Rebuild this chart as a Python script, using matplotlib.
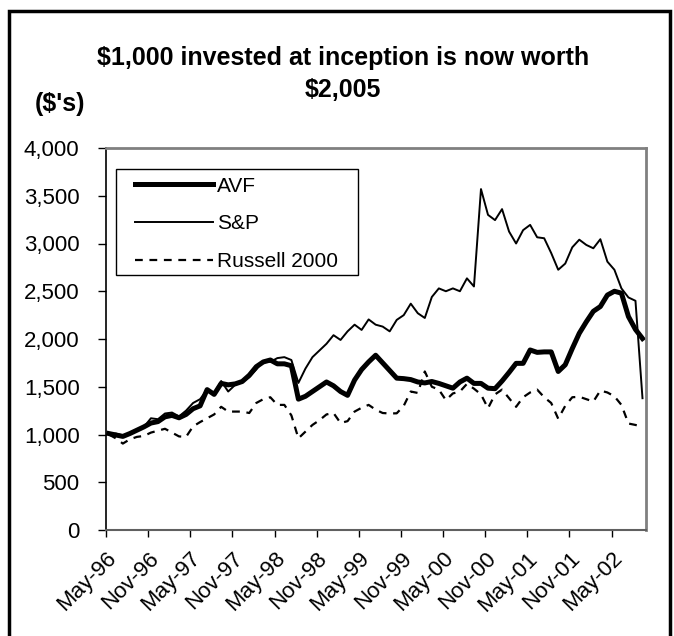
import numpy as np
import matplotlib
matplotlib.use("Agg")
import matplotlib.pyplot as plt
from matplotlib.patches import Rectangle

plt.rcParams['font.family'] = ['Liberation Sans', 'DejaVu Sans']

# monthly growth of $1,000, May-96 .. Sep-02
tick_labels = ["May-96", "Nov-96", "May-97", "Nov-97", "May-98", "Nov-98", "May-99",
               "Nov-99", "May-00", "Nov-00", "May-01", "Nov-01", "May-02"]

avf = [1010, 995, 980, 1010, 1045, 1080, 1120, 1135, 1185, 1200,
       1175, 1210, 1270, 1300, 1470, 1420, 1535, 1520, 1530, 1555,
       1620, 1710, 1760, 1780, 1740, 1740, 1720, 1370, 1400, 1450,
       1500, 1550, 1510, 1450, 1410, 1570, 1680, 1760, 1830, 1750,
       1670, 1590, 1585, 1575, 1550, 1540, 1555, 1535, 1510, 1485,
       1550, 1590, 1535, 1535, 1485, 1480, 1560, 1650, 1745, 1745,
       1885, 1860, 1865, 1865, 1660, 1730, 1900, 2060, 2180, 2290,
       2340, 2460, 2500, 2480, 2235, 2100, 2005]

sp = [1000, 1010, 990, 1010, 1040, 1080, 1170, 1160, 1220, 1230,
      1190, 1250, 1330, 1370, 1470, 1430, 1560, 1450, 1520, 1550,
      1600, 1680, 1770, 1760, 1800, 1810, 1780, 1540, 1690, 1810,
      1880, 1950, 2040, 1990, 2080, 2150, 2095, 2205, 2150, 2130,
      2080, 2200, 2250, 2370, 2270, 2220, 2440, 2530, 2500, 2530,
      2500, 2635, 2550, 3570, 3300, 3245, 3360, 3125, 3000, 3140,
      3195, 3065, 3055, 2900, 2725, 2790, 2960, 3040, 2985, 2950,
      3045, 2810, 2725, 2530, 2435, 2400, 1380]

russell = [1000, 960, 905, 950, 975, 985, 1020, 1040, 1060, 1020,
           980, 975, 1085, 1130, 1170, 1210, 1290, 1240, 1240, 1240,
           1225, 1330, 1370, 1390, 1310, 1310, 1200, 960, 1030, 1100,
           1150, 1210, 1225, 1120, 1140, 1240, 1280, 1310, 1260, 1225,
           1220, 1222, 1300, 1450, 1435, 1660, 1500, 1470, 1360, 1430,
           1450, 1530, 1480, 1420, 1275, 1420, 1470, 1380, 1290, 1390,
           1440, 1470, 1390, 1330, 1165, 1300, 1390, 1395, 1370, 1345,
           1460, 1440, 1400, 1310, 1115, 1100, 1080]

months = np.arange(len(avf))
first_tick = -0.4  # May-96 tick sits a bit before the first point

W, H = 674, 636
fig = plt.figure(figsize=(W / 100, H / 100), dpi=100)
ax = fig.add_axes([106 / W, 1 - 530 / H, 540 / W, 382 / H])

ax.plot(months, avf, color='black', lw=3.6, label='AVF', solid_joinstyle='round')
ax.plot(months, sp, color='black', lw=1.4, label='S&P')
ax.plot(months, russell, color='black', lw=1.6, ls=(0, (3.5, 3)), label='Russell 2000')

ax.set_xlim(first_tick, len(avf) - 0.5)
ax.set_ylim(0, 4000)
ax.set_yticks(np.arange(0, 4001, 500))
ax.set_yticklabels([f"{v:,}" for v in range(0, 4001, 500)], fontsize=16)
ax.set_xticks(first_tick + 6 * np.arange(len(tick_labels)))
ax.set_xticklabels(tick_labels, rotation=45, ha='right', va='top',
                   rotation_mode='anchor', fontsize=16)

ax.tick_params(axis='y', direction='out', length=6, width=1, pad=13)
ax.tick_params(axis='x', direction='out', length=5, width=1, pad=8)
for side in ['top', 'right']:
    ax.spines[side].set_color('#808080')
    ax.spines[side].set_linewidth(2)
ax.spines['left'].set_color('black')
ax.spines['bottom'].set_color('#606060')
ax.spines['left'].set_linewidth(1.2)
ax.spines['bottom'].set_linewidth(1.5)

# legend box drawn separately, entries placed inside it
ax.add_patch(Rectangle((0.0185, 0.6675), 0.448, 0.2775, transform=ax.transAxes,
                       fill=False, ec='black', lw=1, zorder=5))
ax.legend(loc='upper left', bbox_to_anchor=(0.0537, 0.925), fontsize=15,
          frameon=False, handlelength=3.75, handletextpad=0.2,
          labelspacing=0.9, borderpad=0, borderaxespad=0)

fig.text(343 / W, 1 - 58 / H, "$1,000 invested at inception is now worth",
         ha='center', va='center', fontsize=18, fontweight='bold')
fig.text(343 / W, 1 - 90 / H, "$2,005", ha='center', va='center',
         fontsize=18, fontweight='bold')
fig.text(35 / W, 1 - 104 / H, "($'s)", ha='left', va='center',
         fontsize=18, fontweight='bold')

# outer chart border
fig.patches.append(Rectangle((9 / W, -0.1), (670 - 9) / W, 1.1 - 11 / H,
                             transform=fig.transFigure, fill=False,
                             ec='black', lw=2.5))

fig.savefig('out.png', dpi=100)
